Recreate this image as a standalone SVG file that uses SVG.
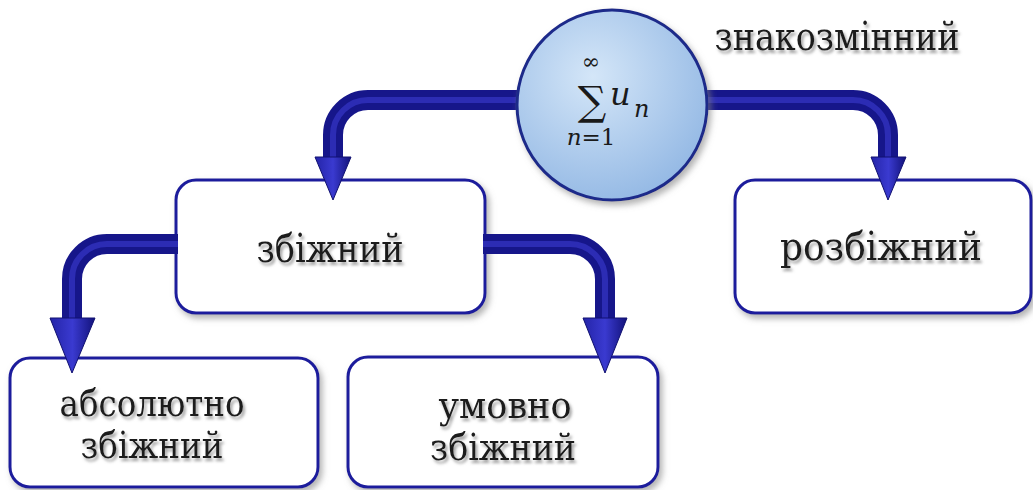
<svg xmlns="http://www.w3.org/2000/svg" width="1033" height="490" viewBox="0 0 1033 490">
<defs>
<style>
.box{fill:#ffffff;stroke:#1c1c9c;stroke-width:3;filter:url(#sh)}
.lbl{font-family:'DejaVu Serif',serif;font-size:40px;fill:#1a1a1a;text-anchor:middle;filter:url(#tsh)}
.two{font-size:38px}
.band{fill:none;stroke:#16168a;stroke-width:20}
.hl{fill:none;stroke:#2c2cb4;stroke-width:6}
.head{fill:url(#hg);stroke:#101070;stroke-width:1}
.m{font-family:'DejaVu Serif',serif;fill:#1a1a1a}
</style>
<filter id="sh" x="-10%" y="-10%" width="125%" height="130%">
<feDropShadow dx="3" dy="4" stdDeviation="3" flood-color="#808080" flood-opacity="0.6"/>
</filter>
<filter id="tsh" x="-10%" y="-20%" width="125%" height="150%">
<feDropShadow dx="2" dy="3" stdDeviation="1.5" flood-color="#777" flood-opacity="0.7"/>
</filter>
<radialGradient id="cg" cx="0.4" cy="0.35" r="0.7">
<stop offset="0" stop-color="#d4e6f8"/>
<stop offset="1" stop-color="#93b8e4"/>
</radialGradient>
<linearGradient id="hg" x1="0" y1="0" x2="1" y2="0">
<stop offset="0" stop-color="#2424a8"/>
<stop offset="0.5" stop-color="#3a3ad0"/>
<stop offset="1" stop-color="#12127a"/>
</linearGradient>
</defs>
<rect width="1033" height="490" fill="#ffffff"/>
<g id="node-zbizhnyi">
<rect class="box" x="176" y="180" width="309" height="133" rx="20"/>
<text class="lbl" x="330" y="262" textLength="147" lengthAdjust="spacingAndGlyphs">збіжний</text>
</g>
<g id="node-rozbizhnyi">
<rect class="box" x="735" y="180" width="296" height="133" rx="20"/>
<text class="lbl" x="881" y="260" textLength="202" lengthAdjust="spacingAndGlyphs">розбіжний</text>
</g>
<g id="node-absolutno">
<rect class="box" x="10" y="358" width="308" height="129" rx="20"/>
<text class="lbl two" x="152" y="416" textLength="185" lengthAdjust="spacingAndGlyphs">абсолютно</text>
<text class="lbl two" x="152" y="458" textLength="143" lengthAdjust="spacingAndGlyphs">збіжний</text>
</g>
<g id="node-umovno">
<rect class="box" x="348" y="357" width="310" height="130" rx="20"/>
<text class="lbl two" x="505" y="418" textLength="133" lengthAdjust="spacingAndGlyphs">умовно</text>
<text class="lbl two" x="503" y="460" textLength="146" lengthAdjust="spacingAndGlyphs">збіжний</text>
</g>
<g id="connectors">
<path class="band" d="M560 100 H368 A35 35 0 0 0 333 135 V160"/>
<path class="hl" d="M560 100 H368 A35 35 0 0 0 333 135 V160"/>
<polygon class="head" points="315,157 351,157 333,200"/>
<path class="band" d="M660 100 H853 A35 35 0 0 1 888 135 V160"/>
<path class="hl" d="M660 100 H853 A35 35 0 0 1 888 135 V160"/>
<polygon class="head" points="871,157 906,157 888,200"/>
<path class="band" d="M178 244 H107 A35 35 0 0 0 72 279 V320"/>
<path class="hl" d="M178 244 H107 A35 35 0 0 0 72 279 V320"/>
<polygon class="head" points="50,318 95,318 72,373"/>
<path class="band" d="M483 244 H570 A35 35 0 0 1 605 279 V320"/>
<path class="hl" d="M483 244 H570 A35 35 0 0 1 605 279 V320"/>
<polygon class="head" points="583,318 627,318 605,373"/>
</g>
<g id="node-series">
<circle cx="612" cy="105" r="95" fill="url(#cg)" stroke="#1e2a8a" stroke-width="3" filter="url(#sh)"/>
<text class="m" x="591" y="69" font-size="22" text-anchor="middle">∞</text>
<text class="m" x="592" y="115" font-size="40" text-anchor="middle">∑</text>
<text class="m" x="610" y="105" font-size="32" font-style="italic">u</text>
<text class="m" x="634" y="117" font-size="24" font-style="italic">n</text>
<text class="m" x="591" y="145" font-size="23" text-anchor="middle"><tspan font-style="italic">n</tspan>=1</text>
</g>
<g id="label-znakozminnyi">
<text class="lbl" x="837" y="50" textLength="245" lengthAdjust="spacingAndGlyphs">знакозмінний</text>
</g>
</svg>
